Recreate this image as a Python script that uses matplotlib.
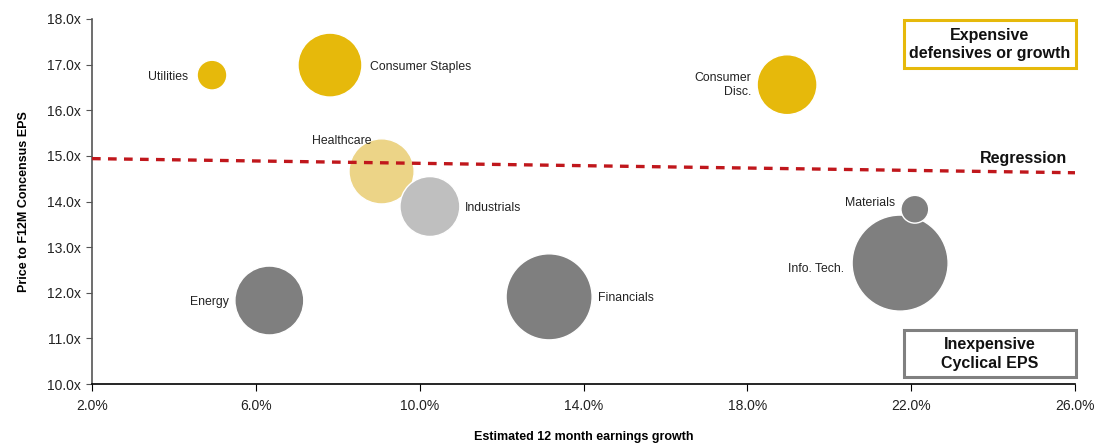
import matplotlib
matplotlib.use("Agg")
import matplotlib.pyplot as plt
from matplotlib.patches import Rectangle
from matplotlib.ticker import FuncFormatter, FixedLocator, MultipleLocator

plt.rcParams['font.family'] = ['Liberation Sans', 'DejaVu Sans']

# Sector data: earnings growth (%), forward P/E (x), index weight (%)
sectors = ["Utilities", "Consumer Staples", "Consumer\nDisc.", "Healthcare",
           "Industrials", "Info. Tech.", "Materials", "Energy", "Financials"]
growth = [4.93, 7.81, 18.97, 9.07, 10.25, 21.73, 22.09, 6.33, 13.16]
pe = [16.77, 16.99, 16.56, 14.66, 13.89, 12.65, 13.83, 11.83, 11.91]
weight = [2.3, 10.6, 9.3, 11.0, 9.3, 23.9, 2.0, 12.3, 19.2]
colors = ["#E6B90B", "#E6B90B", "#E6B90B", "#ECD487",
          "#BFBFBF", "#7F7F7F", "#7F7F7F", "#7F7F7F", "#7F7F7F"]

# Regression line end points
reg_x = [2.0, 26.0]
reg_y = [14.94, 14.63]

x_ticks = [2, 6, 10, 14, 18, 22, 26]

# Label placement: (offset in points, horizontal alignment)
label_pos = {
    "Utilities": ((-17, -1.2), "right"),
    "Consumer Staples": ((29, -1.2), "left"),
    "Consumer\nDisc.": ((-26, -0.5), "right"),
    "Healthcare": ((-29, 22), "center"),
    "Industrials": ((25, -0.8), "left"),
    "Info. Tech.": ((-40, -4), "right"),
    "Materials": ((-14, 4.5), "right"),
    "Energy": ((-29, -1), "right"),
    "Financials": ((35, -1), "left"),
}

fig = plt.figure(figsize=(10.95, 4.43), dpi=100)
ax = fig.add_axes([92 / 1095, 59 / 443, 983 / 1095, 365 / 443])

ax.scatter(growth, pe, s=[w * 200 for w in weight], c=colors,
           edgecolors="white", linewidths=1.0, zorder=3)

ax.plot(reg_x, reg_y, color="#C0171C", lw=2.4, dashes=(2.6, 2.2), zorder=4)

for name, gx, py in zip(sectors, growth, pe):
    off, ha = label_pos[name]
    ax.annotate(name, (gx, py), xytext=off, textcoords="offset points",
                ha=ha, va="center", fontsize=8.8, color="#222222",
                multialignment="right" if ha == "right" else "left", zorder=5)

ax.text(24.75, 14.95, "Regression", ha="center", va="center",
        fontsize=11.5, fontweight="bold", color="#111111", zorder=5)

# Quadrant call-out boxes
ax.add_patch(Rectangle((21.82, 16.92), 4.2, 1.06, fill=True, fc="white",
                       ec="#E6B90B", lw=2.2, clip_on=False, zorder=6))
ax.text(23.92, 17.44, "Expensive\ndefensives or growth", ha="center", va="center",
        fontsize=11.5, fontweight="bold", color="#111111", linespacing=1.28,
        zorder=7)
ax.add_patch(Rectangle((21.82, 10.16), 4.2, 1.03, fill=True, fc="white",
                       ec="#808080", lw=2.2, clip_on=False, zorder=6))
ax.text(23.92, 10.66, "Inexpensive\nCyclical EPS", ha="center", va="center",
        fontsize=11.5, fontweight="bold", color="#111111", linespacing=1.28,
        zorder=7)

ax.set_xlim(2, 26)
ax.set_ylim(10, 18)
ax.xaxis.set_major_locator(FixedLocator(x_ticks))
ax.yaxis.set_major_locator(MultipleLocator(1))
ax.xaxis.set_major_formatter(FuncFormatter(lambda v, p: f"{v:.1f}%"))
ax.yaxis.set_major_formatter(FuncFormatter(lambda v, p: f"{v:.1f}x"))

for s in ("top", "right"):
    ax.spines[s].set_visible(False)
ax.spines["left"].set_color("#555555")
ax.spines["left"].set_linewidth(1.2)
ax.spines["bottom"].set_color("#000000")
ax.spines["bottom"].set_linewidth(1.2)
ax.tick_params(axis="y", direction="out", length=4, labelsize=10,
               colors="#555555", labelcolor="#222222", pad=4)
ax.tick_params(axis="x", direction="out", length=5, labelsize=10,
               labelcolor="#222222", pad=6)

ax.set_xlabel("Estimated 12 month earnings growth", fontsize=9, fontweight="bold",
              labelpad=13)
ax.set_ylabel("Price to F12M Concensus EPS", fontsize=9, fontweight="bold",
              labelpad=12)

fig.savefig("out.png", dpi=100)
